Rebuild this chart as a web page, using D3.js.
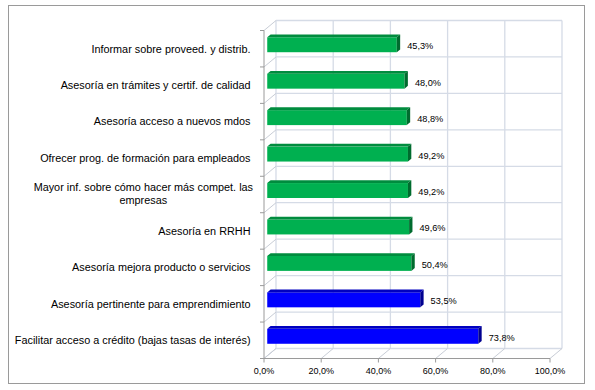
<!DOCTYPE html>
<html>
<head>
<meta charset="utf-8">
<script src="https://cdn.jsdelivr.net/npm/d3@7"></script>
<style>
  html, body { margin: 0; padding: 0; background: #fff; }
  svg { display: block; }
  text { font-family: "Liberation Sans", Arial, sans-serif; fill: #000; }
</style>
</head>
<body>
<svg id="chart" width="595" height="390"></svg>
<script>
const categories = [
  "Informar sobre proveed. y distrib.",
  "Asesoría en trámites y certif. de calidad",
  "Asesoría acceso a nuevos mdos",
  "Ofrecer prog. de formación para empleados",
  "Mayor inf. sobre cómo hacer más compet. las empresas",
  "Asesoría en RRHH",
  "Asesoría mejora producto o servicios",
  "Asesoría pertinente para emprendimiento",
  "Facilitar acceso a crédito (bajas tasas de interés)"
];
const values = [45.3, 48.0, 48.8, 49.2, 49.2, 49.6, 50.4, 53.5, 73.8];
const highlighted = [
  "Asesoría pertinente para emprendimiento",
  "Facilitar acceso a crédito (bajas tasas de interés)"
];
const tickValues = [0, 20, 40, 60, 80, 100];
const tickLabels = ["0,0%", "20,0%", "40,0%", "60,0%", "80,0%", "100,0%"];

const svg = d3.select("#chart");

// outer border
svg.append("rect").attr("x", 8.5).attr("y", 5.5).attr("width", 576).attr("height", 378)
  .attr("fill", "#fff").attr("stroke", "#9a9a9a").attr("stroke-width", 1);

// 3D geometry
const DX = 12, DY = -10;          // depth offset front -> back
const fx0 = 264, fx1 = 550;       // front axis extent
const fy0 = 30.5, fy1 = 358.5;    // front category extent
const x = d3.scaleLinear().domain([0, 100]).range([fx0, fx1]);
const y = d3.scaleBand().domain(categories).range([fy0, fy1]).padding(0);
const step = y.step();

const gridColor = "#d5dbe6";
const wallEdge = "#c8cdd6";
const axisColor = "#9a9a9a";

const g = svg.append("g");

// back wall vertical gridlines
g.selectAll(".vgrid").data(tickValues).join("line")
  .attr("x1", d => x(d) + DX).attr("x2", d => x(d) + DX)
  .attr("y1", fy0 + DY).attr("y2", fy1 + DY)
  .attr("stroke", gridColor).attr("stroke-width", 1.3);

// back wall horizontal gridlines (category boundaries)
const bounds = categories.map(c => y(c)).concat([fy1]);
g.selectAll(".hgrid").data(bounds).join("line")
  .attr("x1", fx0 + DX).attr("x2", fx1 + DX)
  .attr("y1", d => d + DY).attr("y2", d => d + DY)
  .attr("stroke", gridColor).attr("stroke-width", 1.3);

// left wall diagonals
g.selectAll(".lwall").data(bounds).join("line")
  .attr("x1", fx0).attr("y1", d => d)
  .attr("x2", fx0 + DX).attr("y2", d => d + DY)
  .attr("stroke", wallEdge).attr("stroke-width", 1);

// floor diagonals
g.selectAll(".floor").data(tickValues).join("line")
  .attr("x1", d => x(d)).attr("y1", fy1)
  .attr("x2", d => x(d) + DX).attr("y2", fy1 + DY)
  .attr("stroke", wallEdge).attr("stroke-width", 1);

// bars
const dFront = 0.27, dBack = 0.55;
const fdx = DX * dFront, fdy = DY * dFront;
const bdx = DX * (dBack - dFront), bdy = DY * (dBack - dFront);
const barH = step * 0.41;
const barOff = step * 0.26;

const data = categories.map((c, i) => ({ c, v: values[i], hi: highlighted.includes(c) }));
const pal = {
  green: { front: "#00b050", top: "#008c3e", side: "#006b2e" },
  blue: { front: "#0000ff", top: "#0000c0", side: "#000090" }
};

const bars = g.selectAll(".bar").data(data).join("g");
bars.each(function(d) {
  const col = d.hi ? pal.blue : pal.green;
  const x0 = x(0) + fdx, x1 = x(d.v) + fdx;
  const yT = y(d.c) + fdy + barOff, yB = yT + barH;
  const s = d3.select(this);
  s.append("rect").attr("x", x0).attr("y", yT).attr("width", x1 - x0).attr("height", barH)
    .attr("fill", col.front);
  s.append("polygon").attr("points", [[x0, yT], [x0 + bdx, yT + bdy], [x1 + bdx, yT + bdy], [x1, yT]].join(" "))
    .attr("fill", col.top);
  s.append("polygon").attr("points", [[x1, yT], [x1 + bdx, yT + bdy], [x1 + bdx, yB + bdy], [x1, yB]].join(" "))
    .attr("fill", col.side);
  s.append("text").attr("x", x1 + bdx + 7).attr("y", yT + barH / 2 + 2)
    .attr("dominant-baseline", "middle").attr("font-size", 9.2)
    .text(d.v.toFixed(1).replace(".", ",") + "%");
});

// front axes
g.append("line").attr("x1", fx0).attr("x2", fx0).attr("y1", fy0).attr("y2", fy1)
  .attr("stroke", axisColor).attr("stroke-width", 1);
g.append("line").attr("x1", fx0).attr("x2", fx1).attr("y1", fy1).attr("y2", fy1)
  .attr("stroke", axisColor).attr("stroke-width", 1);
g.selectAll(".ytick").data(bounds).join("line")
  .attr("x1", fx0 - 4).attr("x2", fx0).attr("y1", d => d).attr("y2", d => d)
  .attr("stroke", axisColor);
g.selectAll(".xtick").data(tickValues).join("line")
  .attr("x1", d => x(d)).attr("x2", d => x(d)).attr("y1", fy1).attr("y2", fy1 + 4)
  .attr("stroke", axisColor);

// x tick labels
g.selectAll(".xlab").data(tickValues).join("text")
  .attr("x", d => x(d)).attr("y", 374).attr("text-anchor", "middle").attr("font-size", 9)
  .text((d, i) => tickLabels[i]);

// category labels
const labelRight = 250.5;
const catFont = 10.85;
data.forEach(d => {
  const cy = y(d.c) + step / 2;
  if (d.c.startsWith("Mayor inf.")) {
    const t = g.append("text").attr("font-size", catFont).attr("text-anchor", "middle");
    const l1 = t.append("tspan").text("Mayor inf. sobre cómo hacer más compet. las");
    const w = l1.node().getComputedTextLength();
    const cx = 253 - w / 2;
    l1.attr("x", cx).attr("y", cy - 6.8).attr("dominant-baseline", "middle");
    t.append("tspan").attr("x", cx).attr("y", cy + 6.8).attr("dominant-baseline", "middle").text("empresas");
  } else {
    g.append("text").attr("x", labelRight).attr("y", cy + 1).attr("text-anchor", "end")
      .attr("dominant-baseline", "middle").attr("font-size", catFont).text(d.c);
  }
});
</script>
</body>
</html>
